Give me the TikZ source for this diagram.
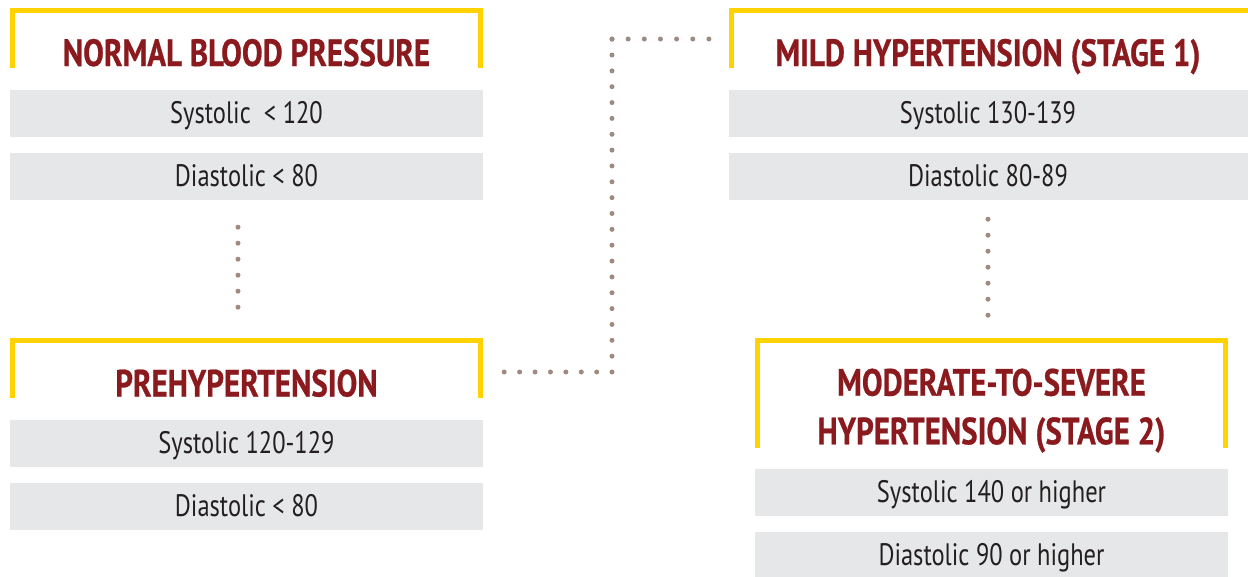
\documentclass[tikz,border=0pt]{standalone}
\usepackage{fontspec}
\setmainfont{PT Sans}
\newfontfamily\headfont{PT Sans Bold}[FakeStretch=0.815,FakeBold=0.6]
\newfontfamily\cellfont{PT Sans}[FakeStretch=0.79]
\definecolor{gold}{HTML}{FFD200}
\definecolor{titlered}{HTML}{8A1A1E}
\definecolor{cellgray}{HTML}{E6E7E8}
\definecolor{ink}{HTML}{231F20}
\definecolor{dotbrown}{HTML}{9F8A7F}
\begin{document}
\begin{tikzpicture}[x=1pt,y=-1pt,
  hdr/.style={minimum width=473pt, minimum height=60pt, inner sep=0pt},
  bracket/.style={draw=gold, line width=5pt, line join=miter},
  title/.style={text=titlered, font=\headfont\fontsize{38}{48.6}\selectfont,
    anchor=base, inner sep=0pt, align=center},
  cell/.style={fill=cellgray, minimum width=473pt, minimum height=47pt,
    inner sep=0pt, text height=25pt, text depth=6pt, text=ink,
    font=\cellfont\fontsize{31}{36}\selectfont},
  dots/.style={draw=dotbrown, line width=5pt, line cap=round,
    dash pattern=on 0pt off 16pt}]
\useasboundingbox (0,0) rectangle (1248,576);

% ---- normal blood pressure
\node[hdr] (nb) at (246.5,38) {};
\draw[bracket] ([xshift=2.5pt]nb.south west) |- ([yshift=-2.5pt]nb.north)
  -| ([xshift=-2.5pt]nb.south east);
\node[title] (nbt) at ([yshift=-28pt]nb.center) {NORMAL BLOOD PRESSURE};
\node[cell] (nb1) at (246.5,113.5) {Systolic~ < 120};
\node[cell] (nb2) at (246.5,176.5) {Diastolic < 80};

% ---- prehypertension
\node[hdr] (pre) at (246.5,368) {};
\draw[bracket] ([xshift=2.5pt]pre.south west) |- ([yshift=-2.5pt]pre.north)
  -| ([xshift=-2.5pt]pre.south east);
\node[title] (pret) at ([yshift=-28.5pt]pre.center) {PREHYPERTENSION};
\node[cell] (pre1) at (246.5,443.5) {Systolic 120-129};
\node[cell] (pre2) at (246.5,506.5) {Diastolic < 80};

% ---- mild hypertension (runs off the right edge)
\node[hdr, minimum width=518pt] (mild) at (988,38) {};
\draw[bracket] ([xshift=2.5pt]mild.south west) |- ([yshift=-2.5pt]mild.north)
  -- ++(300,0);
\node[title] (mildt) at ([yshift=-28pt]mild.center) {MILD HYPERTENSION (STAGE 1)};
\node[cell, minimum width=518pt] (mild1) at (988,113.5) {Systolic 130-139};
\node[cell, minimum width=518pt] (mild2) at (988,176.5) {Diastolic 80-89};
\fill[cellgray] ([xshift=-0.5pt]mild1.north east) rectangle ([xshift=30pt]mild1.south east);
\fill[cellgray] ([xshift=-0.5pt]mild2.north east) rectangle ([xshift=30pt]mild2.south east);

% ---- moderate-to-severe hypertension
\node[hdr, minimum height=110pt] (mod) at (991.5,393) {};
\draw[bracket] ([xshift=2.5pt]mod.south west) |- ([yshift=-2.5pt]mod.north)
  -| ([xshift=-2.5pt]mod.south east);
\node[title] (modt) at (991.5,444.3) {MODERATE-TO-SEVERE\\HYPERTENSION (STAGE 2)};
\node[cell] (mod1) at (991.5,492.5) {Systolic 140 or higher};
\node[cell] (mod2) at (991.5,555.5) {Diastolic 90 or higher};

% ---- dotted links down each column
\draw[dots] ([xshift=-8.5pt,yshift=-27pt]nb2.south) -- ([xshift=-8.5pt,yshift=30.5pt]pre.north);
\draw[dots] ([yshift=-19pt]mild2.south) -- ([yshift=22.5pt]mod.north -| mild2.south);

% ---- dotted link from prehypertension to mild hypertension
\coordinate (k) at (612,0);
\coordinate (c1) at ([xshift=21pt,yshift=-4pt]pre.east);
\coordinate (c3) at ([xshift=-19pt,yshift=-1pt]mild.west);
\coordinate (c2) at (c1 -| k);
\coordinate (c4) at (c2 |- c3);
\draw[dots, dash pattern=on 0pt off 15.42pt] (c1) -- (c2);
\draw[dots, dash pattern=on 0pt off 15.85pt] (c2) -- (c4);
\draw[dots, dash pattern=on 0pt off 16.15pt] (c4) -- (c3);
\end{tikzpicture}
\end{document}
